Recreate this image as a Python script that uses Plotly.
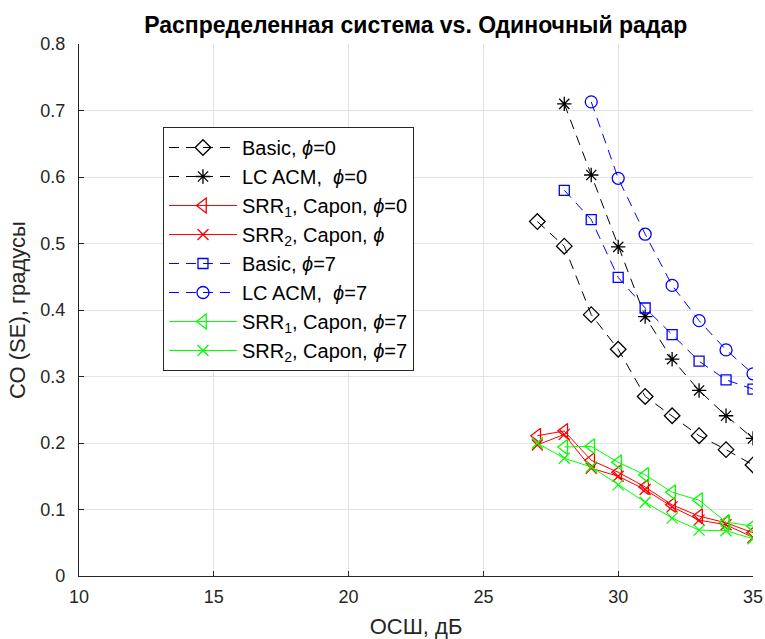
import plotly.graph_objects as go

snr_basic0 = [27, 28, 29, 30, 31, 32, 33, 34, 35]
basic_phi0 = [0.533, 0.496, 0.393, 0.341, 0.270, 0.241, 0.211, 0.190, 0.167]

snr_lc0 = [28, 29, 30, 31, 32, 33, 34, 35]
lcacm_phi0 = [0.710, 0.603, 0.495, 0.390, 0.326, 0.279, 0.241, 0.207]

snr_srr10 = [27, 28, 29, 30, 31, 32, 33, 34, 35]
srr1_phi0 = [0.211, 0.218, 0.174, 0.156, 0.134, 0.107, 0.090, 0.080, 0.065]

snr_srr20 = [27, 28, 29, 30, 31, 32, 33, 34, 35]
srr2_phi0 = [0.197, 0.213, 0.162, 0.150, 0.130, 0.104, 0.084, 0.077, 0.058]

snr_basic7 = [28, 29, 30, 31, 32, 33, 34, 35]
basic_phi7 = [0.580, 0.536, 0.449, 0.403, 0.363, 0.323, 0.295, 0.281]

snr_lc7 = [29, 30, 31, 32, 33, 34, 35]
lcacm_phi7 = [0.713, 0.598, 0.514, 0.437, 0.384, 0.340, 0.304]

snr_srr17 = [28, 29, 30, 31, 32, 33, 34, 35]
srr1_phi7 = [0.194, 0.195, 0.171, 0.152, 0.126, 0.114, 0.081, 0.075]

snr_srr27 = [27, 28, 29, 30, 31, 32, 33, 34, 35]
srr2_phi7 = [0.200, 0.177, 0.164, 0.137, 0.111, 0.087, 0.069, 0.068, 0.056]

PHI = "<i>ϕ</i>"
NB = "\u00a0"
names = [
    f"Basic, {PHI}=0",
    f"LC ACM,{NB}{NB}{PHI}=0",
    f"SRR<sub>1</sub>, Capon, {PHI}=0",
    f"SRR<sub>2</sub>, Capon, {PHI}",
    f"Basic, {PHI}=7",
    f"LC ACM,{NB}{NB}{PHI}=7",
    f"SRR<sub>1</sub>, Capon, {PHI}=7",
    f"SRR<sub>2</sub>, Capon, {PHI}=7",
]

RED = "#ff0000"
GREEN = "#00ff00"
BLUE = "#0000ff"
BLACK = "#000000"
DASH = "10px,7px"
FONT = "Liberation Sans, Arial, sans-serif"

series = [
    (snr_basic0, basic_phi0, BLACK, DASH, "diamond-open", 12),
    (snr_lc0, lcacm_phi0, BLACK, DASH, "asterisk-open", 12),
    (snr_srr10, srr1_phi0, RED, "solid", "triangle-left-open", 13),
    (snr_srr20, srr2_phi0, RED, "solid", "x-thin-open", 11),
    (snr_basic7, basic_phi7, BLUE, DASH, "square-open", 10),
    (snr_lc7, lcacm_phi7, BLUE, DASH, "circle-open", 12),
    (snr_srr17, srr1_phi7, GREEN, "solid", "triangle-left-open", 13),
    (snr_srr27, srr2_phi7, GREEN, "solid", "x-thin-open", 11),
]

fig = go.Figure()
for (xs, ys, col, dash, sym, size), nm in zip(series, names):
    fig.add_trace(go.Scatter(
        x=xs, y=ys, name=nm, mode="lines+markers",
        line=dict(color=col, width=1, dash=dash),
        marker=dict(symbol=sym, size=size, color=col,
                    line=dict(color=col, width=1.3)),
    ))

axis_common = dict(
    showgrid=True, gridcolor="#e3e3e3", gridwidth=1,
    showline=True, linecolor="#262626", linewidth=1.3,
    ticks="inside", ticklen=5, tickcolor="#262626",
    tickfont=dict(family=FONT, size=18, color="#262626"),
    zeroline=False, mirror=False, automargin=False,
)

fig.update_layout(
    width=765, height=639,
    margin=dict(l=79, r=12, t=44, b=63),
    paper_bgcolor="white", plot_bgcolor="white",
    title=dict(text="<b>Распределенная система vs. Одиночный радар</b>",
               x=0.5435, xanchor="center", y=0.961, yanchor="middle",
               font=dict(family=FONT, size=23, color="#000000")),
    xaxis=dict(range=[10, 35], tickvals=[10, 15, 20, 25, 30, 35],
               ticklabelstandoff=4,
               title=dict(text="ОСШ, дБ", standoff=13,
                          font=dict(family=FONT, size=22, color="#262626")),
               **axis_common),
    yaxis=dict(range=[0, 0.8], tickvals=[0, 0.1, 0.2, 0.3, 0.4, 0.5, 0.6, 0.7, 0.8],
               ticktext=["0", "0.1", "0.2", "0.3", "0.4", "0.5", "0.6", "0.7", "0.8"],
               ticklabelstandoff=9,
               title=dict(text="СО (SE), градусы", standoff=8,
                          font=dict(family=FONT, size=22, color="#262626")),
               **axis_common),
    legend=dict(x=0.1246, y=0.844, xanchor="left", yanchor="top",
                bgcolor="white", bordercolor="#262626", borderwidth=1,
                font=dict(family=FONT, size=20, color="#000000"),
                tracegroupgap=0, itemwidth=68),
    showlegend=True,
)

fig.write_html("out.html",
               config={"displayModeBar": False},
               post_script="document.body.style.margin='0';document.body.style.padding='0';window.dispatchEvent(new Event('resize'));")
